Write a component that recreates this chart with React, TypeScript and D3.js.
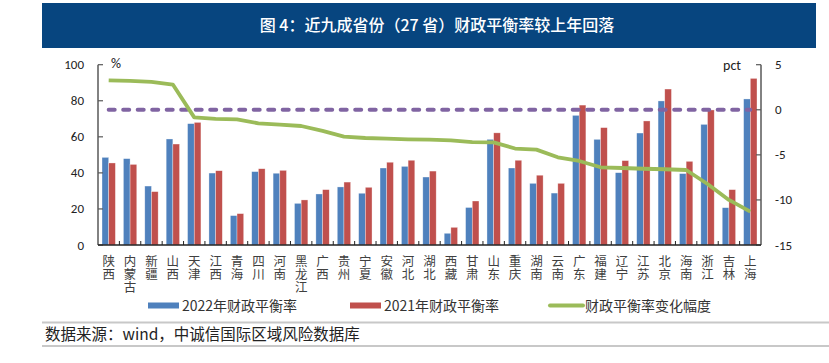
import React from 'react'
import { scaleBand, scaleLinear, line } from 'd3'

// values
const provinces = ['陕西', '内蒙古', '新疆', '山西', '天津', '江西', '青海', '四川', '河南', '黑龙江', '广西', '贵州', '宁夏', '安徽', '河北', '湖北', '西藏', '甘肃', '山东', '重庆', '湖南', '云南', '广东', '福建', '辽宁', '江苏', '北京', '海南', '浙江', '吉林', '上海']
const rate2022 = [48.6, 47.9, 32.7, 58.8, 67.3, 39.9, 16.3, 40.7, 39.8, 23.1, 28.3, 32.2, 28.7, 42.7, 43.6, 37.7, 6.5, 20.8, 58.6, 42.7, 34.2, 28.8, 71.9, 58.6, 40.1, 62.1, 79.9, 39.6, 66.9, 20.7, 81.0]
const rate2021 = [45.5, 44.7, 29.6, 56.0, 68.0, 41.2, 17.4, 42.3, 41.4, 25.0, 30.7, 34.9, 32.0, 45.9, 47.0, 41.0, 9.8, 24.4, 62.2, 47.0, 38.7, 34.2, 77.6, 65.1, 46.8, 68.8, 86.5, 46.4, 74.9, 30.7, 92.4]
const change = [3.27, 3.2, 3.1, 2.8, -0.84, -1.0, -1.06, -1.5, -1.65, -1.8, -2.35, -2.98, -3.13, -3.2, -3.28, -3.32, -3.39, -3.58, -3.62, -4.3, -4.42, -5.27, -5.68, -6.38, -6.46, -6.54, -6.6, -6.68, -8.23, -10.0, -11.3]
const leftTicks = [0, 20, 40, 60, 80, 100]
const rightTicks = [5, 0, -5, -10, -15]
const refLevel = 0

const title = '图 4：近九成省份（27 省）财政平衡率较上年回落'
const source = '数据来源：wind，中诚信国际区域风险数据库'

const W = 829
const H = 363
const left = 98
const right = 761
const top = 64.7
const bottom = 245

const BLUE = '#4f81bd'
const RED = '#c0504d'
const GREEN = '#9bbb59'
const PURPLE = '#8064a2'
const NUM_FONT = 'Carlito, Lato, "Liberation Sans", sans-serif'
const CJK_FONT = '"Noto Sans CJK SC", sans-serif'

const App = () => {
    const x = scaleBand().domain(provinces).range([left, right]).padding(0)
    const inner = scaleBand().domain(['2022', '2021']).range([0, x.bandwidth()]).paddingInner(0).paddingOuter(0.6)
    const yL = scaleLinear().domain([0, 100]).range([bottom, top])
    const yR = scaleLinear().domain([-15, 5]).range([bottom, top])
    const cx = (p) => x(p) + x.bandwidth() / 2

    const changeLine = line()
        .x((d, i) => cx(provinces[i]))
        .y((d) => yR(d))

    const series = [
        { key: '2022', values: rate2022, color: BLUE },
        { key: '2021', values: rate2021, color: RED },
    ]

    return (
        <svg width={W} height={H} style={{ position: 'absolute', left: 0, top: 0, background: '#fff' }}>
            {/* title bar */}
            <rect x={42} y={3} width={774} height={45} fill='#07457f' />
            <text x={437} y={31} textAnchor='middle' fill='#fff' fontSize={16} fontFamily={CJK_FONT} fontWeight={500}>{title}</text>

            {/* bars */}
            {series.map((s) => (
                <g key={s.key}>
                    {s.values.map((v, i) => (
                        <rect key={i}
                            x={x(provinces[i]) + inner(s.key)}
                            y={yL(v)}
                            width={inner.bandwidth()}
                            height={yL(0) - yL(v)}
                            fill={s.color}
                            stroke='rgba(255,255,255,0.55)'
                            strokeWidth={0.6} />
                    ))}
                </g>
            ))}

            {/* reference dashed line */}
            <line x1={cx(provinces[0])} x2={cx(provinces[provinces.length - 1])}
                y1={yR(refLevel)} y2={yR(refLevel)}
                stroke={PURPLE} strokeWidth={4} strokeDasharray='6 8.5' strokeLinecap='round' />

            {/* change line */}
            <path d={changeLine(change)} fill='none' stroke={GREEN} strokeWidth={3.8} strokeLinejoin='round' />

            {/* left axis */}
            <line x1={left} x2={left} y1={top} y2={bottom} stroke='#595959' strokeWidth={1.5} />
            {leftTicks.map((t) => (
                <g key={t}>
                    <line x1={left} x2={left + 5} y1={yL(t)} y2={yL(t)} stroke='#595959' strokeWidth={1.2} />
                    <text x={84} y={yL(t)} dy='0.35em' textAnchor='end' fontSize={13} fontFamily={NUM_FONT} fill='#222'>{t}</text>
                </g>
            ))}
            <text x={111} y={68} fontSize={14} fontFamily={NUM_FONT} fill='#222'>%</text>

            {/* right axis */}
            <line x1={right} x2={right} y1={top} y2={bottom} stroke='#595959' strokeWidth={1.5} />
            {rightTicks.map((t) => (
                <g key={t}>
                    <line x1={right - 5} x2={right} y1={yR(t)} y2={yR(t)} stroke='#595959' strokeWidth={1.2} />
                    <text x={775} y={yR(t)} dy='0.35em' fontSize={13} fontFamily={NUM_FONT} fill='#222'>{t}</text>
                </g>
            ))}
            <text x={741} y={70} textAnchor='end' fontSize={14} fontFamily={NUM_FONT} fill='#222'>pct</text>

            {/* bottom axis */}
            <line x1={left} x2={right} y1={bottom} y2={bottom} stroke='#222' strokeWidth={1.5} />
            {provinces.slice(1).map((p) => (
                <line key={p} x1={x(p)} x2={x(p)} y1={bottom} y2={bottom - 4} stroke='#222' strokeWidth={1} />
            ))}
            {provinces.map((p) => (
                <text key={p} x={cx(p)} y={254.5} fontSize={12.5} fontFamily={CJK_FONT} fill='#404040'
                    style={{ writingMode: 'vertical-rl', textOrientation: 'upright', letterSpacing: '0.8px' }}>{p}</text>
            ))}

            {/* legend */}
            <rect x={148} y={302.5} width={31} height={6} fill={BLUE} />
            <text x={182} y={310.5} fontSize={14} fontFamily={CJK_FONT} fill='#333'>2022年财政平衡率</text>
            <rect x={350} y={302.5} width={31} height={6} fill={RED} />
            <text x={384} y={310.5} fontSize={14} fontFamily={CJK_FONT} fill='#333'>2021年财政平衡率</text>
            <line x1={550} x2={583} y1={305.5} y2={305.5} stroke={GREEN} strokeWidth={4} strokeLinecap='round' />
            <text x={585} y={310.5} fontSize={14} fontFamily={CJK_FONT} fill='#333'>财政平衡率变化幅度</text>

            {/* source */}
            <line x1={42} x2={W} y1={322.5} y2={322.5} stroke='#c8c8c8' strokeWidth={2} />
            <text x={45} y={340} fontSize={15.5} fontFamily={CJK_FONT} fill='#222'>{source}</text>
            <line x1={42} x2={W} y1={346} y2={346} stroke='#c8c8c8' strokeWidth={2} />
        </svg>
    )
}

export default App
